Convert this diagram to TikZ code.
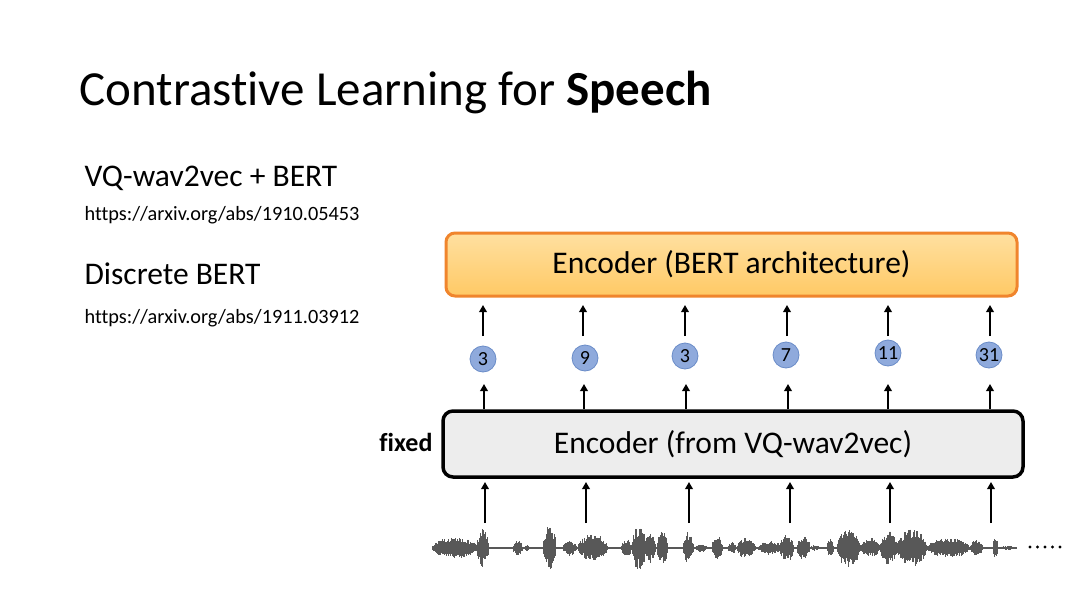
\documentclass[tikz,border=0pt]{standalone}
\usepackage{fontspec}
\setmainfont{Carlito}[Ligatures=NoCommon]
\usetikzlibrary{arrows.meta}
\definecolor{bertfillA}{HTML}{FFE0A0}
\definecolor{bertfillB}{HTML}{FFC965}
\definecolor{bertline}{HTML}{F0852D}
\definecolor{tokfill}{HTML}{8FAADC}
\definecolor{tokline}{HTML}{6A8CC8}
\definecolor{vqfill}{HTML}{EDEDED}
\definecolor{wave}{HTML}{585858}
\tikzset{
  bertbox/.style={draw=bertline, line width=3pt, rounded corners=9pt,
    top color=bertfillA, bottom color=bertfillB,
    minimum width=571pt, minimum height=63pt, inner sep=0pt,
    font=\fontsize{31.5}{34}\selectfont},
  vqbox/.style={draw=black, line width=3.5pt, rounded corners=10pt, fill=vqfill,
    minimum width=580pt, minimum height=66pt, inner sep=0pt,
    font=\fontsize{31.5}{34}\selectfont},
  token/.style={circle, fill=tokfill, draw=tokline, line width=0.8pt,
    minimum size=26pt, inner sep=0pt, font=\fontsize{20}{21}\selectfont},
  uparrow/.style={line width=2.3pt, -{Triangle[length=7pt,width=7.5pt]}},
  heading/.style={anchor=base west, font=\fontsize{31.5}{34}\selectfont},
  link/.style={anchor=base west, font=\fontsize{20.3}{22}\selectfont},
  wavestroke/.style={draw=wave, line width=1.1pt}
}
\begin{document}
\begin{tikzpicture}[x=1pt,y=-1pt]
\useasboundingbox[fill=white] (0,0) rectangle (1090,605);

% title and references
\node[anchor=base west, font=\fontsize{49}{52}\selectfont] (title) at (76,105)
  {Contrastive Learning for \textbf{Speech}};
\node[heading] (h1) at (81,186) {VQ-wav2vec + BERT};
\node[link] (l1) at (81,220) {https://arxiv.org/abs/1910.05453};
\node[heading] (h2) at (81,284) {Discrete BERT};
\node[link] (l2) at (81,323) {https://arxiv.org/abs/1911.03912};

% the two encoders
\node[bertbox] (bert) at (731.5,264.5) {Encoder (BERT architecture)};
\node[vqbox] (vq) at (733,444) {Encoder (from VQ-wav2vec)};
\node[anchor=east, font=\bfseries\fontsize{26}{28}\selectfont] (fixed) at (436,442) {fixed};

% discrete tokens
\node[token] (k1) at (483,359) {3};
\node[token] (k2) at (585,358) {9};
\node[token] (k3) at (685,356) {3};
\node[token] (k4) at (786,355) {7};
\node[token] (k5) at (888,353) {11};
\node[token] (k6) at (989,355) {31};

% arrows: tokens -> BERT encoder
\foreach \i/\x in {1/483,2/583,3/685,4/787,5/888,6/990}{
  \coordinate (ta\i) at (\x,336);
  \coordinate (tb\i) at (\x,305);
  \draw[uparrow] (ta\i) -- (tb\i);
}
% arrows: VQ encoder -> tokens
\foreach \i/\x in {1/484,2/584,3/686,4/788,5/888,6/990}{
  \coordinate (qa\i) at (\x,409);
  \coordinate (qb\i) at (\x,384);
  \draw[uparrow] (qa\i) -- (qb\i);
}
% arrows: waveform -> VQ encoder
\foreach \i/\x in {1/485,2/586,3/689,4/790,5/890,6/991}{
  \coordinate (wa\i) at (\x,523);
  \coordinate (wb\i) at (\x,482);
  \draw[uparrow] (wa\i) -- (wb\i);
}

% speech waveform
\pgfmathsetseed{11}
\draw[wave, line width=1.2pt] (432,548) -- (1017,548);
\foreach \a/\b/\m in {432/478/11, 477/489/19, 513/523/8, 525/529/3, 543/556/22,
    563/577/8, 578/608/14, 621/632/9, 632/646/22, 645/656/15, 657/668/18,
    683/694/16, 695/708/4, 712/723/12, 728/736/6, 737/754/10, 740/756/8,
    758/782/7, 780/794/14, 797/810/12, 810/820/3, 827/834/9, 837/860/20,
    860/880/10, 880/897/17, 897/927/19, 927/970/10, 970/983/8, 993/998/10,
    998/1017/2}{
  \pgfmathsetmacro{\aa}{\a+0.8}
  \foreach \x in {\a,\aa,...,\b}{
    \pgfmathsetmacro{\e}{\m*sqrt(abs(sin(180*(\x-\a)/(\b-\a))))}
    \pgfmathsetmacro{\up}{\e*(0.5+0.5*rnd)}
    \pgfmathsetmacro{\dn}{\e*(0.5+0.5*rnd)}
    \draw[wavestroke] (\x,548-\up) -- (\x,548+\dn);
  }
}
% trailing dots
\foreach \k in {0,...,4}{
  \fill (1030+7.5*\k,547) circle (1.6pt);
}
\end{tikzpicture}
\end{document}
